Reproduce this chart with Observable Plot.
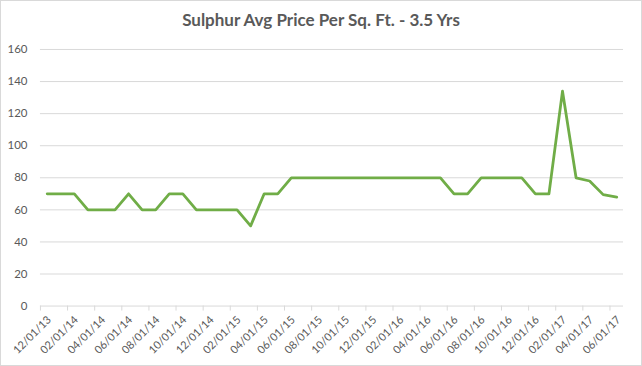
<!DOCTYPE html>
<html><head><meta charset="utf-8">
<script src="https://cdn.jsdelivr.net/npm/d3@7"></script>
<script src="https://cdn.jsdelivr.net/npm/@observablehq/plot@0.6"></script>
<style>
html,body{margin:0;padding:0;background:#fff;}
#frame{position:relative;width:642px;height:366px;box-sizing:border-box;border:1px solid #d9d9d9;overflow:hidden;font-family:Lato,"Open Sans",sans-serif;}
#title{position:absolute;left:0;top:8px;width:100%;text-align:center;font-weight:bold;font-size:17px;color:#595959;}
#chart{position:absolute;left:-1px;top:35px;}
</style></head><body>
<div id="frame"><div id="title">Sulphur Avg Price Per Sq. Ft. - 3.5 Yrs</div><div id="chart"></div></div>
<script>
const months = [
  "12/01/13","01/01/14","02/01/14","03/01/14","04/01/14","05/01/14","06/01/14","07/01/14","08/01/14","09/01/14","10/01/14","11/01/14",
  "12/01/14","01/01/15","02/01/15","03/01/15","04/01/15","05/01/15","06/01/15","07/01/15","08/01/15","09/01/15","10/01/15","11/01/15",
  "12/01/15","01/01/16","02/01/16","03/01/16","04/01/16","05/01/16","06/01/16","07/01/16","08/01/16","09/01/16","10/01/16","11/01/16",
  "12/01/16","01/01/17","02/01/17","03/01/17","04/01/17","05/01/17","06/01/17"
];
const prices = [
  70,70,70,60,60,60,70,60,60,70,70,60,
  60,60,60,50,70,70,80,80,80,80,80,80,
  80,80,80,80,80,80,70,70,80,80,80,80,
  70,70,134,80,78,69.5,68
];
const yTicks = [0,20,40,60,80,100,120,140,160];

const data = months.map((m, i) => ({i, m, v: prices[i]}));
const labeled = data.filter(d => d.i % 2 === 0);
const boundaries = labeled.map(d => d.i - 0.5);

const chart = Plot.plot({
  width: 642, height: 330,
  marginLeft: 40, marginRight: 18, marginTop: 13, marginBottom: 60,
  style: {fontFamily: "Lato, 'Open Sans', sans-serif", background: "transparent"},
  x: {domain: [-0.5, months.length - 0.5], axis: null},
  y: {domain: [0, 160], axis: null},
  marks: [
    Plot.ruleY(yTicks, {stroke: "#d9d9d9", strokeWidth: 1}),
    Plot.axisX({ticks: boundaries, tickSize: 5, tickFormat: () => "", label: null, color: "#d9d9d9", strokeWidth: 1}),
    Plot.axisY({ticks: yTicks, tickSize: 0, tickPadding: 13, label: null, color: "#595959", fontSize: 11.5}),
    Plot.text(labeled, {x: "i", y: 0, text: "m", rotate: -45, textAnchor: "end", dy: 12, dx: 2, fill: "#595959", fontSize: 11}),
    Plot.line(data, {x: "i", y: "v", stroke: "#70ad47", strokeWidth: 2.8, strokeLinejoin: "round"})
  ]
});
document.getElementById("chart").appendChild(chart);
</script>
</body></html>
